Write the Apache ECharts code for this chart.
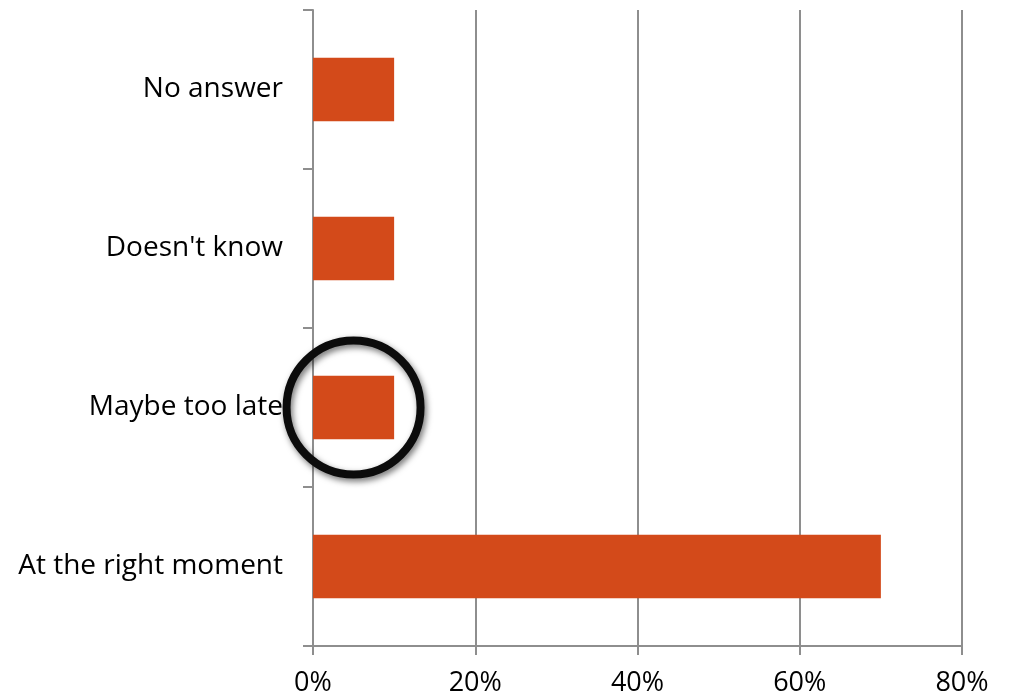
<!DOCTYPE html>
<html>
<head>
<meta charset="utf-8">
<script src="https://cdn.jsdelivr.net/npm/echarts@6/dist/echarts.min.js"></script>
<style>html,body{margin:0;padding:0;background:#fff}#c{width:1009px;height:700px}</style>
</head>
<body>
<div id="c"></div>
<script>
const categories = ['At the right moment', 'Maybe too late', "Doesn't know", 'No answer'];
const values = [70, 10, 10, 10];
const xTicks = [0, 20, 40, 60, 80];
const highlight = [[5, 'Maybe too late']];

const chart = echarts.init(document.getElementById('c'));
const gray = '#8e8e8e';
chart.setOption({
  animation: false,
  textStyle: { fontFamily: 'Open Sans' },
  grid: { left: 313, right: 47, top: 10, bottom: 54 },
  xAxis: {
    type: 'value', min: xTicks[0], max: xTicks[xTicks.length - 1], interval: 20,
    axisLine: { show: true, lineStyle: { color: gray, width: 2 } },
    axisTick: { show: true, length: 9, lineStyle: { color: gray, width: 2 } },
    splitLine: { show: true, lineStyle: { color: gray, width: 2 } },
    axisLabel: { formatter: '{value}%', color: '#000', fontSize: 27, margin: 24, fontFamily: 'Open Sans' }
  },
  yAxis: {
    type: 'category', data: categories,
    axisLine: { show: true, lineStyle: { color: gray, width: 2 } },
    axisTick: { show: true, length: 10, lineStyle: { color: gray, width: 2 } },
    axisLabel: { color: '#000', fontSize: 28, margin: 30, fontFamily: 'Open Sans' }
  },
  series: [
    {
      type: 'bar', data: values, barCategoryGap: '60%',
      itemStyle: { color: '#d34a1a' }
    },
    {
      type: 'custom', data: highlight, z: 10,
      renderItem: function (params, api) {
        const p = api.coord([api.value(0), api.value(1)]);
        return {
          type: 'circle',
          shape: { cx: p[0], cy: p[1], r: 67 },
          style: {
            fill: 'none', stroke: '#0c0c0c', lineWidth: 8,
            shadowBlur: 6, shadowColor: 'rgba(0,0,0,0.55)', shadowOffsetX: 2, shadowOffsetY: 3
          }
        };
      }
    }
  ]
});
</script>
</body>
</html>
